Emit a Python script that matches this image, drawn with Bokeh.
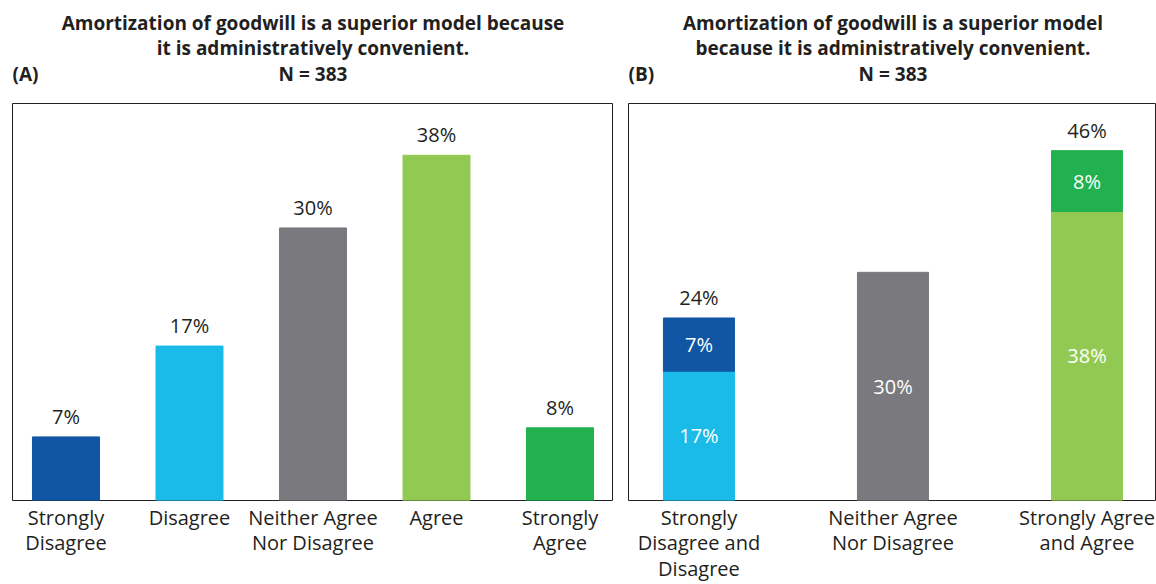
from bokeh.plotting import figure
from bokeh.layouts import row, column
from bokeh.models import Range1d, FixedTicker, ColumnDataSource
from bokeh.core.properties import value
from bokeh.embed import file_html
from bokeh.resources import INLINE

# ---------------- data ----------------
title_line1_a = "Amortization of goodwill is a superior model because"
title_line2_a = "it is administratively convenient."
title_line1_b = "Amortization of goodwill is a superior model"
title_line2_b = "because it is administratively convenient."
n_text = "N = 383"

cats_a = ["Strongly\nDisagree", "Disagree", "Neither Agree\nNor Disagree", "Agree", "Strongly\nAgree"]
vals_a = [7, 17, 30, 38, 8]

cats_b = ["Strongly\nDisagree and\nDisagree", "Neither Agree\nNor Disagree", "Strongly Agree\nand Agree"]
vals_b_low = [17, 30, 38]
vals_b_top = [7, 0, 8]

# ---------------- style ----------------
FONT = "Open Sans"
TXT = "#231f20"
colors_a = ["#1155a5", "#1abbe9", "#7a797e", "#92c952", "#21b14f"]
colors_b_low = ["#1abbe9", "#7a797e", "#92c952"]
colors_b_top = ["#1155a5", "#7a797e", "#21b14f"]

TITLE_H = 103
H = 584 - TITLE_H
BOTTOM = 79
LBL_SIZE = "20px"


def base_fig(width, xr, y_end, bl, br, cats):
    p = figure(width=width, height=H, x_range=xr, y_range=Range1d(0, y_end),
               output_backend="svg", toolbar_location=None, y_axis_location=None,
               min_border_left=bl, min_border_right=br, min_border_top=0, min_border_bottom=BOTTOM)
    p.xgrid.visible = False
    p.ygrid.visible = False
    p.outline_line_color = TXT
    p.outline_line_width = 1
    p.background_fill_color = "white"
    p.border_fill_color = "white"
    ax = p.xaxis[0]
    ax.ticker = FixedTicker(ticks=list(range(len(cats))))
    ax.major_label_overrides = {i: c for i, c in enumerate(cats)}
    ax.axis_line_color = None
    ax.major_tick_line_color = None
    ax.minor_tick_line_color = None
    ax.major_tick_out = 0
    ax.major_tick_in = 0
    ax.major_label_standoff = 3
    ax.major_label_text_font = FONT
    ax.major_label_text_font_size = LBL_SIZE
    ax.major_label_text_color = TXT
    ax.major_label_text_line_height = 0.95
    return p


def title_fig(width, xr, bl, br, mid, tag, l1, l2):
    t = figure(width=width, height=TITLE_H, x_range=xr, y_range=Range1d(0, TITLE_H),
               output_backend="svg", toolbar_location=None, x_axis_location=None, y_axis_location=None,
               min_border_left=bl, min_border_right=br, min_border_top=0, min_border_bottom=0)
    t.xgrid.visible = False
    t.ygrid.visible = False
    t.outline_line_color = None
    t.background_fill_color = "white"
    t.border_fill_color = "white"
    src = ColumnDataSource(dict(x=[mid, mid, mid, xr.start],
                                y=[TITLE_H - 22, TITLE_H - 47, TITLE_H - 73, TITLE_H - 73],
                                txt=[l1, l2, n_text, tag],
                                align=["center", "center", "center", "left"]))
    t.text(x="x", y="y", text="txt", text_align="align", source=src, text_baseline="middle",
           text_font=value(FONT), text_font_style="bold", text_font_size="19px", text_color=TXT)
    return t


# ---------------- panel A ----------------
xr_a = Range1d(-0.433, 4.425)
ya = 43.7
pa = base_fig(620, xr_a, ya, 12, 8, cats_a)
xa = list(range(len(cats_a)))
src_a = ColumnDataSource(dict(x=xa, top=vals_a, color=colors_a,
                              lab=[f"{v}%" for v in vals_a]))
pa.vbar(x="x", top="top", bottom=0, width=0.5425, color="color", source=src_a)
pa.text(x="x", y="top", text="lab", source=src_a, text_align="center", text_baseline="bottom",
        y_offset=-7, text_font=value(FONT), text_font_size=LBL_SIZE, text_color=TXT)
ta = title_fig(620, xr_a, 12, 8, xa[len(xa) // 2], "(A)", title_line1_a, title_line2_a)

# ---------------- panel B ----------------
xr_b = Range1d(-0.363, 2.353)
yb = 52.2
pb = base_fig(536, xr_b, yb, 8, 1, cats_b)
xb = list(range(len(cats_b)))
src_low = ColumnDataSource(dict(x=xb, top=vals_b_low, color=colors_b_low,
                                mid=[v / 2 for v in vals_b_low],
                                lab=[f"{v}%" for v in vals_b_low]))
pb.vbar(x="x", top="top", bottom=0, width=0.366, color="color", source=src_low)
pb.text(x="x", y="mid", text="lab", source=src_low, text_align="center", text_baseline="middle",
        text_font=value(FONT), text_font_size=LBL_SIZE, text_color="white")

xi = [x for x, t in zip(xb, vals_b_top) if t > 0]
lo_i = [lo for lo, t in zip(vals_b_low, vals_b_top) if t > 0]
tp_i = [t for t in vals_b_top if t > 0]
tot_i = [lo + t for lo, t in zip(lo_i, tp_i)]
col_i = [c for c, t in zip(colors_b_top, vals_b_top) if t > 0]
src_top = ColumnDataSource(dict(x=xi, bottom=lo_i, top=tot_i, color=col_i,
                                mid=[lo + t / 2 for lo, t in zip(lo_i, tp_i)],
                                lab=[f"{t}%" for t in tp_i],
                                tlab=[f"{v}%" for v in tot_i]))
pb.vbar(x="x", top="top", bottom="bottom", width=0.366, color="color", source=src_top)
pb.text(x="x", y="mid", text="lab", source=src_top, text_align="center", text_baseline="middle",
        text_font=value(FONT), text_font_size=LBL_SIZE, text_color="white")
pb.text(x="x", y="top", text="tlab", source=src_top, text_align="center", text_baseline="bottom",
        y_offset=-7, text_font=value(FONT), text_font_size=LBL_SIZE, text_color=TXT)
tb = title_fig(536, xr_b, 8, 1, xb[len(xb) // 2], "(B)", title_line1_b, title_line2_b)

layout = column(row(ta, tb, spacing=0), row(pa, pb, spacing=0), spacing=0)
open("out.html", "w").write(file_html(layout, INLINE))
